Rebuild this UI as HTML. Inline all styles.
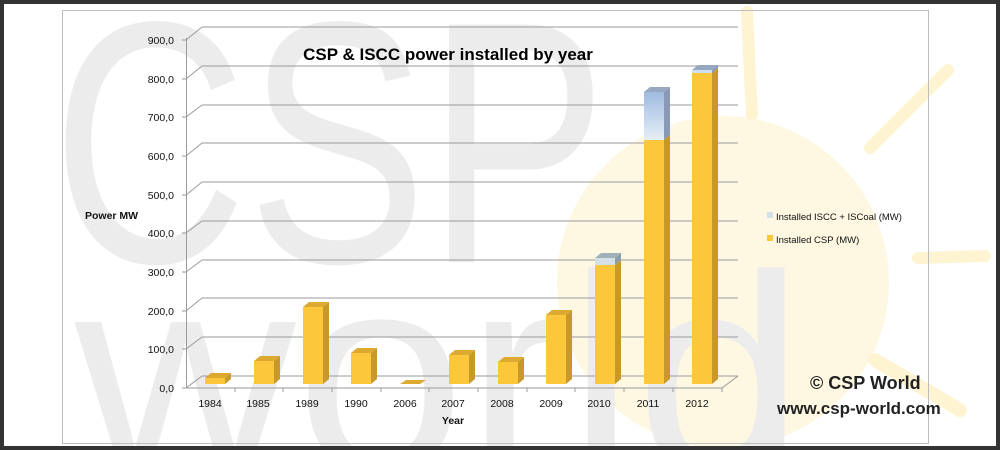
<!DOCTYPE html>
<html><head><meta charset="utf-8"><style>
html,body{margin:0;padding:0;background:#fff;width:1000px;height:450px;overflow:hidden}
svg{display:block;overflow:hidden}
text{font-family:"Liberation Sans",sans-serif}
</style></head><body>
<svg width="1000" height="450" viewBox="0 0 1000 450" xmlns="http://www.w3.org/2000/svg">
<defs>
<linearGradient id="bl" x1="0" y1="0" x2="0" y2="1"><stop offset="0" stop-color="#9fbbe0"/><stop offset="1" stop-color="#e6eef7"/></linearGradient>
<clipPath id="c"><rect x="0" y="0" width="1000" height="450"/></clipPath>
</defs>
<g clip-path="url(#c)">
<rect x="0" y="0" width="1000" height="450" fill="#fff"/>
<circle cx="723" cy="282" r="166" fill="#fef8e2"/>
<g stroke="#fef4d2" stroke-linecap="round" fill="none">
<path d="M747 12 L752 115" stroke-width="12"/>
<path d="M870 148 L948 70" stroke-width="12"/>
<path d="M918 258 L985 256" stroke-width="12"/>
<path d="M875 360 L960 410" stroke-width="14"/>
</g>
<text x="52" y="262" font-size="345" fill="#ececec" textLength="555" lengthAdjust="spacingAndGlyphs">CSP</text>
<text x="75" y="470" font-size="280" fill="#ececec" textLength="730" lengthAdjust="spacingAndGlyphs">world</text>
<rect x="62.5" y="10.5" width="866" height="433" fill="none" stroke="#bdbdbd"/>
<g stroke="#9a9a9a" stroke-width="1" fill="none">
<path d="M202 27H738M202 66H738M202 105H738M202 143H738M202 182H738M202 221H738M202 260H738M202 298H738M202 337H738M202 376H738"/>
<path d="M186 40L202 27M186 79L202 66M186 117L202 105M186 156L202 143M186 195L202 182M186 233L202 221M186 272L202 260M186 311L202 298M186 349L202 337M186 388L202 376"/>
<path d="M186.5 38V388M186 388H722L738 376"/>
<path d="M182 40H186M182 79H186M182 117H186M182 156H186M182 195H186M182 233H186M182 272H186M182 311H186M182 349H186M182 388H186"/>
<path d="M235 388v4M283 388v4M332 388v4M381 388v4M429 388v4M478 388v4M527 388v4M575 388v4M624 388v4M673 388v4M722 388v4"/>
</g>
<g font-size="10.5" fill="#111" text-anchor="end">
<text x="174" y="44">900,0</text><text x="174" y="83">800,0</text><text x="174" y="121">700,0</text><text x="174" y="160">600,0</text><text x="174" y="199">500,0</text><text x="174" y="237">400,0</text><text x="174" y="276">300,0</text><text x="174" y="315">200,0</text><text x="174" y="353">100,0</text><text x="174" y="392">0,0</text>
</g>
<text x="85" y="219" font-size="10.5" font-weight="bold" fill="#111">Power MW</text>
<g font-size="10.5" fill="#111" text-anchor="middle">
<text x="210" y="407">1984</text><text x="258" y="407">1985</text><text x="307" y="407">1989</text><text x="356" y="407">1990</text><text x="405" y="407">2006</text><text x="453" y="407">2007</text><text x="502" y="407">2008</text><text x="551" y="407">2009</text><text x="599" y="407">2010</text><text x="648" y="407">2011</text><text x="697" y="407">2012</text>
</g>
<text x="453" y="424" font-size="10.5" font-weight="bold" fill="#111" text-anchor="middle">Year</text>
<text x="448" y="60" font-size="17" font-weight="bold" fill="#000" text-anchor="middle">CSP &amp; ISCC power installed by year</text>
<g>
<g><rect x="205" y="378" width="20" height="6" fill="#fdc73c"/><path d="M225 378l6-5v6l-6 5z" fill="#c9982a"/><path d="M205 378l6-5h20l-6 5z" fill="#dca931"/></g>
<g><rect x="254" y="361" width="20" height="23" fill="#fdc73c"/><path d="M274 361l6-5v23l-6 5z" fill="#c9982a"/><path d="M254 361l6-5h20l-6 5z" fill="#dca931"/></g>
<g><rect x="303" y="307" width="20" height="77" fill="#fdc73c"/><path d="M323 307l6-5v77l-6 5z" fill="#c9982a"/><path d="M303 307l6-5h20l-6 5z" fill="#dca931"/></g>
<g><rect x="351" y="353" width="20" height="31" fill="#fdc73c"/><path d="M371 353l6-5v31l-6 5z" fill="#c9982a"/><path d="M351 353l6-5h20l-6 5z" fill="#dca931"/></g>
<g><path d="M400 384l6-4h20l-6 4z" fill="#dca931"/></g>
<g><rect x="449" y="355" width="20" height="29" fill="#fdc73c"/><path d="M469 355l6-5v29l-6 5z" fill="#c9982a"/><path d="M449 355l6-5h20l-6 5z" fill="#dca931"/></g>
<g><rect x="498" y="362" width="20" height="22" fill="#fdc73c"/><path d="M518 362l6-5v22l-6 5z" fill="#c9982a"/><path d="M498 362l6-5h20l-6 5z" fill="#dca931"/></g>
<g><rect x="546" y="315" width="20" height="69" fill="#fdc73c"/><path d="M566 315l6-5v69l-6 5z" fill="#c9982a"/><path d="M546 315l6-5h20l-6 5z" fill="#dca931"/></g>
<g><rect x="595" y="265" width="20" height="119" fill="#fdc73c"/><rect x="595" y="258" width="20" height="7" fill="#d4e0e6"/><path d="M615 265l6-5v119l-6 5z" fill="#c9982a"/><path d="M615 258l6-5v7l-6 5z" fill="#8b9da6"/><path d="M595 258l6-5h20l-6 5z" fill="#9fb0b8"/></g>
<g><rect x="644" y="140" width="20" height="244" fill="#fdc73c"/><rect x="644" y="92" width="20" height="48" fill="url(#bl)"/><path d="M664 140l6-5v244l-6 5z" fill="#c9982a"/><path d="M664 92l6-5v48l-6 5z" fill="#8a9ab4"/><path d="M644 92l6-5h20l-6 5z" fill="#97a8c2"/></g>
<g><rect x="692" y="73" width="20" height="311" fill="#fdc73c"/><rect x="692" y="70" width="20" height="3" fill="#cfe0f2"/><path d="M712 73l6-5v311l-6 5z" fill="#c9982a"/><path d="M712 70l6-5v3l-6 5z" fill="#8a9ab4"/><path d="M692 70l6-5h20l-6 5z" fill="#97a8c2"/></g>
</g>
<rect x="767" y="212" width="6" height="6" fill="#d5dfe6"/>
<text x="776" y="220" font-size="9.5" fill="#111">Installed ISCC + ISCoal (MW)</text>
<rect x="767" y="235" width="6" height="6" fill="#fdc73c"/>
<text x="776" y="243" font-size="9.5" fill="#111">Installed CSP (MW)</text>
<text x="810" y="389" font-size="18" font-weight="bold" fill="#222">© CSP World</text>
<text x="777" y="414" font-size="17" font-weight="bold" fill="#222">www.csp-world.com</text>
<rect x="2" y="2" width="996" height="446" fill="none" stroke="#333" stroke-width="4"/>
</g>
</svg>
</body></html>
